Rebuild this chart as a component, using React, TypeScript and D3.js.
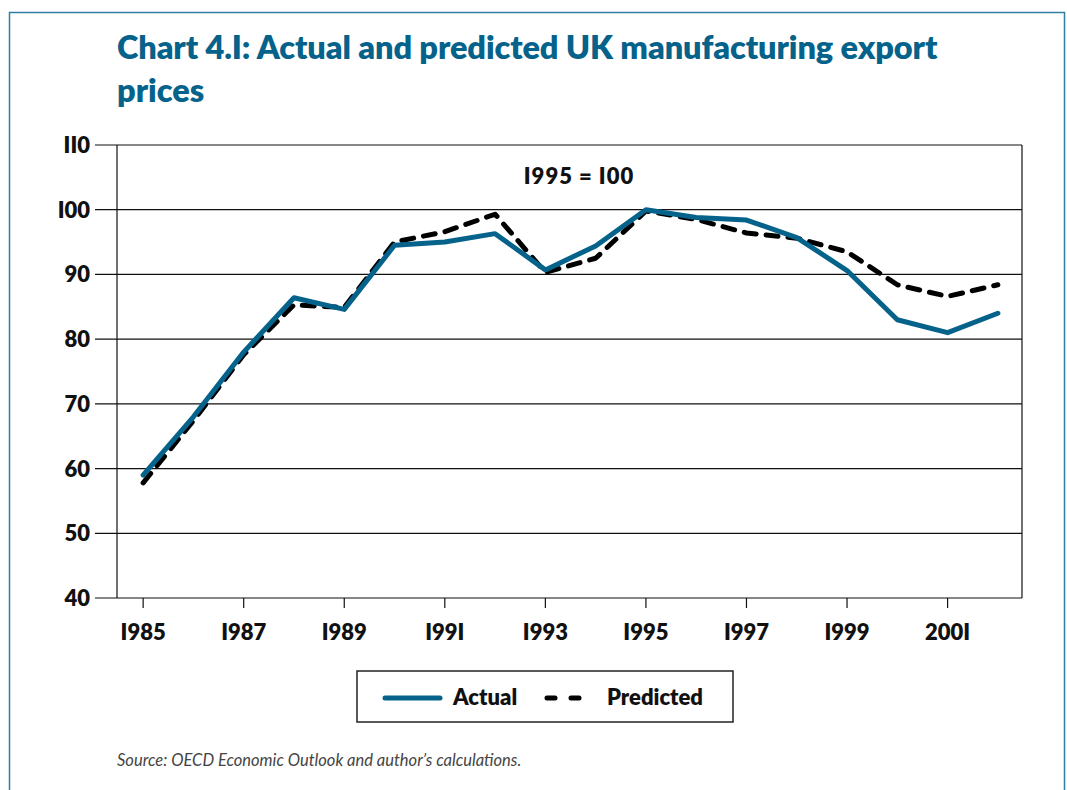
import React from "react";
import { scaleLinear, line } from "d3";

const years = [1985, 1986, 1987, 1988, 1989, 1990, 1991, 1992, 1993, 1994, 1995, 1996, 1997, 1998, 1999, 2000, 2001, 2002];
const actual = [59, 68, 78, 86.4, 84.6, 94.5, 95, 96.3, 90.7, 94.4, 100, 98.8, 98.4, 95.7, 90.6, 83, 81, 84];
const predicted = [57.8, 67.4, 77.6, 85.3, 84.9, 95, 96.6, 99.3, 90.3, 92.5, 99.8, 98.5, 96.4, 95.6, 93.5, 88.4, 86.6, 88.4];
const yTicks = [40, 50, 60, 70, 80, 90, 100, 110];
const xTicks = [1985, 1987, 1989, 1991, 1993, 1995, 1997, 1999, 2001];

const TEAL = "#05628a";
const FONT = "Lato, 'Open Sans', sans-serif";

export default function App() {
  const W = 1067;
  const H = 790;
  const left = 117;
  const right = 1022;
  const top = 145;
  const bottom = 598;

  const x = scaleLinear().domain([1984.48, 2002.48]).range([left, right]);
  const y = scaleLinear().domain([40, 110]).range([bottom, top]);

  const pts = (vals: number[]) => years.map((yr, i) => [yr, vals[i]] as [number, number]);
  const path = line<[number, number]>()
    .x((d) => x(d[0]))
    .y((d) => y(d[1]));

  return (
    <svg width={W} height={H} style={{ position: "absolute", left: 0, top: 0 }}>
      <rect x={0} y={0} width={W} height={H} fill="#fff" />
      {/* frame */}
      <path d={`M9.5,${H} V12.5 H1064.5 V${H}`} fill="none" stroke="#2d7fa3" strokeWidth={1.5} />

      <text x={117} y={59} fill={TEAL} fontFamily={FONT} fontWeight={800} fontSize={32.5} letterSpacing={-0.1}>
        Chart 4.I: Actual and predicted UK manufacturing export
      </text>
      <text x={117} y={102} fill={TEAL} fontFamily={FONT} fontWeight={800} fontSize={32.5}>
        prices
      </text>

      {/* gridlines */}
      {yTicks.map((t) => (
        <g key={t}>
          <line x1={95} x2={right} y1={y(t)} y2={y(t)} stroke="#111" strokeWidth={1.2} />
          <text
            x={90}
            y={y(t) + 8}
            textAnchor="end"
            fontFamily={FONT}
            fontWeight={800}
            fontSize={22}
            fill="#111"
          >
            {t === 110 ? "II0" : t === 100 ? "I00" : t}
          </text>
        </g>
      ))}
      <line x1={left} x2={left} y1={top} y2={bottom} stroke="#111" strokeWidth={1.2} />
      <line x1={right} x2={right} y1={top} y2={bottom} stroke="#111" strokeWidth={1.2} />

      {xTicks.map((t) => (
        <g key={t}>
          <line x1={x(t)} x2={x(t)} y1={bottom} y2={bottom + 10} stroke="#111" strokeWidth={1.2} />
          <text
            x={x(t)}
            y={640}
            textAnchor="middle"
            fontFamily={FONT}
            fontWeight={800}
            fontSize={22}
            fill="#111"
          >
            {String(t).replace(/1/g, "I")}
          </text>
        </g>
      ))}

      <text x={579} y={184} textAnchor="middle" fontFamily={FONT} fontWeight={800} fontSize={22} letterSpacing={1} fill="#111">
        I995 = I00
      </text>

      <path d={path(pts(predicted)) || ""} fill="none" stroke="#000" strokeWidth={5} strokeDasharray="12 10" strokeLinecap="round" strokeLinejoin="round" />
      <path d={path(pts(actual)) || ""} fill="none" stroke={TEAL} strokeWidth={5} strokeLinejoin="round" strokeLinecap="round" />

      {/* legend */}
      <rect x={357} y={671} width={376} height={51} fill="#fff" stroke="#222" strokeWidth={1.5} />
      <line x1={385} x2={440} y1={698} y2={698} stroke={TEAL} strokeWidth={5} strokeLinecap="round" />
      <text x={453} y={705} fontFamily={FONT} fontWeight={800} fontSize={22} fill="#111">Actual</text>
      <line x1={547} x2={583} y1={698} y2={698} stroke="#000" strokeWidth={5} strokeDasharray="8 16" strokeLinecap="round" />
      <text x={607} y={705} fontFamily={FONT} fontWeight={800} fontSize={22} fill="#111">Predicted</text>

      <text x={117} y={766} fontFamily={FONT} fontStyle="italic" fontSize={16.5} fill="#444">
        Source: OECD Economic Outlook and author’s calculations.
      </text>
    </svg>
  );
}
